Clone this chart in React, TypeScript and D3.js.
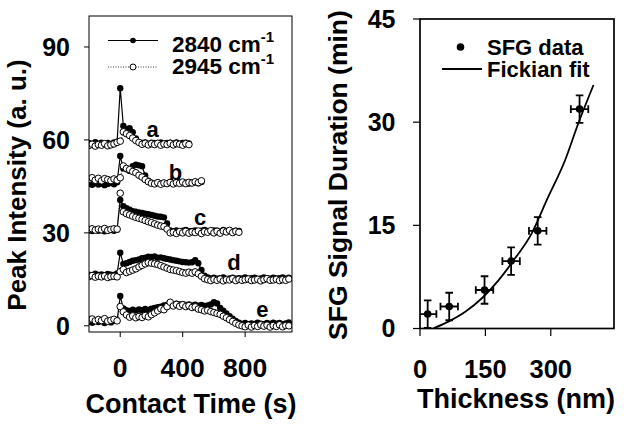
import React from 'react';
import * as d3 from 'd3';

// ---- Left panel data (time series, sampled every 20 s starting at -200 s) ----
const T0 = -200;
const DT = 20;

const a2840 = [59.0, 58.6, 59.3, 58.8, 59.1, 58.5, 59.0, 58.7, 59.2, 59.4, 76.7, 64.5, 63.5, 63.8, 62.5, 60.5,
  59.3, 59.0, 59.2, 58.8, 59.1, 59.0, 58.9, 59.2, 58.8, 59.0, 59.1, 58.9, 59.2, 58.8, 59.0, 59.1, 58.9];
const a2945 = [58.2, 58.6, 58.0, 58.5, 58.3, 58.8, 58.1, 58.4, 58.7, 59.2, 59.6, 62.6, 62.0, 61.4, 60.6, 59.8,
  59.2, 58.6, 58.9, 58.4, 58.8, 58.5, 58.9, 58.3, 58.7, 58.5, 58.9, 58.4, 58.8, 58.6, 58.3, 58.8, 58.5];

const b2840 = [45.8, 45.5, 46.0, 45.6, 45.9, 45.4, 45.8, 46.2, 45.7, 46.3, 54.8,
  50.8, 50.5, 50.0, 51.5, 52.0, 51.8, 51.5, 48.5, 46.8,
  46.2, 46.0, 46.3, 45.9, 46.1, 46.0, 46.2, 45.9, 46.1, 46.3, 46.0, 46.2, 45.9, 46.1, 46.3, 46.0, 46.4];
const b2945 = [47.3, 47.8, 47.0, 47.6, 46.8, 47.5, 47.2, 46.9, 47.4, 47.0, 47.8,
  51.6, 50.8, 50.4, 49.8, 49.4, 48.6, 48.0, 47.2, 46.5,
  46.0, 45.8, 46.2, 45.7, 46.1, 45.9, 46.3, 45.8, 46.2, 46.0, 46.4, 45.9, 46.3, 46.1, 46.5, 46.2, 46.8];

const c2840 = [30.8, 30.6, 31.0, 30.7, 30.9, 30.5, 30.8, 31.0, 30.7, 31.0, 40.6,
  38.6, 38.0, 37.5, 37.0, 36.8, 36.6, 36.4, 36.2, 36.0, 35.8, 35.5, 35.3, 35.2, 35.0, 33.0, 30.8,
  30.5, 30.8, 30.4, 30.7, 30.9, 30.5, 30.6, 30.8, 30.4, 30.7, 30.9, 30.6, 30.5, 30.8, 30.7, 30.4, 30.9, 30.6, 30.8, 30.5, 30.7, 30.6];
const c2945 = [31.1, 31.3, 30.9, 31.2, 31.0, 31.4, 30.8, 31.1, 31.3, 31.2, 42.8,
  36.8, 36.2, 35.8, 35.4, 35.0, 34.7, 34.4, 34.0, 33.6, 33.3, 32.9, 32.5, 32.2, 32.0, 31.2, 30.0,
  30.2, 29.8, 30.4, 30.0, 30.5, 29.9, 30.3, 30.1, 30.6, 29.8, 30.4, 30.2, 30.7, 30.0, 30.5, 29.9, 30.6, 30.3, 30.8, 30.1, 30.5, 30.2];

const d2840 = [16.5, 16.2, 16.8, 16.4, 16.6, 16.3, 16.7, 16.5, 16.4, 16.9, 23.6,
  20.0, 20.2, 20.6, 21.0, 21.2, 21.4, 21.8, 22.0, 22.3, 22.2, 22.4, 22.0, 22.1, 21.8, 21.6, 21.4, 21.2, 21.0, 20.8, 20.6, 20.5, 20.4, 20.5, 21.2, 20.2, 18.0,
  16.2,
  15.6, 15.3, 15.5, 15.2, 15.4, 15.6, 15.1, 15.3, 15.5, 15.2, 15.4, 15.3, 15.6, 15.2, 15.4, 15.5, 15.1, 15.3, 15.6, 15.4, 15.2, 15.5, 15.3, 15.4, 15.6, 15.2, 15.5];
const d2945 = [15.9, 16.2, 15.7, 16.0, 15.8, 16.1, 15.6, 15.9, 16.0, 15.8, 17.5,
  18.2, 17.2, 17.6, 18.0, 18.4, 19.0, 19.5, 20.0, 20.4, 20.2, 20.0, 19.8, 19.4, 19.0, 18.6, 18.2, 18.0, 17.8, 17.5, 17.2, 17.0, 17.3, 17.0, 17.4, 16.8, 16.0, 15.2,
  14.9, 14.6, 15.0, 14.7, 15.1, 14.5, 14.9, 14.8, 15.2, 14.6, 15.0, 14.7, 14.9, 15.1, 14.6, 14.8, 15.0, 14.5, 14.9, 15.2, 14.7, 14.8, 15.0, 14.6, 14.9, 14.7, 15.1];

const e2840 = [1.3, 1.0, 1.6, 1.2, 1.5, 0.9, 1.4, 1.1, 1.6, 1.8, 9.6,
  5.6, 5.0, 4.8, 5.2, 4.9, 5.3, 5.0, 5.4, 5.1, 5.5,
  5.8, 6.0, 6.2, 6.6, 6.8, 7.0, 6.8, 7.1, 6.9, 7.0,
  6.7, 6.9, 6.6, 6.8, 6.5, 6.7, 6.4, 6.6, 6.9, 7.6,
  7.2, 5.8, 4.9, 4.0, 3.1, 2.3, 1.6, 1.0, 0.6, 0.9,
  0.5, 0.8, 0.6, 1.0, 0.7, 0.5, 0.9, 0.6, 1.0, 0.7,
  0.9, 0.5, 0.8, 1.1];
const e2945 = [1.9, 2.2, 1.6, 2.0, 1.7, 2.3, 1.5, 1.8, 2.1, 1.6, 6.2,
  4.5, 3.5, 2.8, 3.2, 2.6, 3.0, 2.7, 3.3, 2.9, 3.6,
  4.2, 4.8, 5.5, 5.2, 6.2, 7.6, 6.4, 6.9, 6.3, 6.8,
  6.2, 6.5, 5.9, 6.1, 5.4, 5.2, 4.8, 5.0, 4.6, 4.3,
  4.0, 3.7, 3.1, 2.6, 2.0, 1.4, 0.8, 0.3, 0.0, -0.3,
  0.2, -0.4, 0.1, -0.2, 0.3, -0.1, 0.2, -0.4, 0.1, -0.2,
  0.3, -0.3, 0.1, 0.0];

const curveLabels = ['a', 'b', 'c', 'd', 'e'];
const labelTime = [208, 353, 512, 728, 910];
const labelIntensity = [61, 47, 32.5, 18, 2.9];
const series2840 = [a2840, b2840, c2840, d2840, e2840];
const series2945 = [a2945, b2945, c2945, d2945, e2945];

const leftYTicks = [0, 30, 60, 90];
const leftXTicks = [0, 400, 800];

// ---- Right panel data ----
const thickness = [17.6, 67, 148, 209, 270, 366];
const duration = [2.1, 3.2, 5.6, 9.8, 14.2, 31.9];
const thicknessErr = [20, 20, 20, 20, 20, 20];
const durationErr = [2, 2, 2, 2, 2, 2];
const fitThickness = [30, 65, 103, 142, 180, 218, 256, 291, 333, 363, 398];
const fitDuration = [0, 1.0, 2.4, 4.4, 7.0, 10.2, 13.8, 18.7, 24.5, 29.8, 35.4];

const rightYTicks = [0, 15, 30, 45];
const rightXTicks = [0, 150, 300];

const FONT = "'Liberation Sans', Arial, Helvetica, sans-serif";

export default function App() {
  // left scales
  const lx = d3.scaleLinear().domain([-200, 1100]).range([89, 292]);
  const ly = d3.scaleLinear().domain([-2, 100]).range([332, 16]);
  // right scales
  const rx = d3.scaleLinear().domain([0, 445]).range([420, 614]);
  const ry = d3.scaleLinear().domain([0, 45]).range([328.5, 19]);

  const toPts = (vals: number[]) => vals.map((v, i) => [T0 + i * DT, v] as [number, number]);
  const line = d3.line<[number, number]>().x(d => lx(d[0])).y(d => ly(d[1]));
  const fitLine = d3.line<[number, number]>().x(d => rx(d[0])).y(d => ry(d[1])).curve(d3.curveMonotoneX);
  const fitPts = fitThickness.map((t, i) => [t, fitDuration[i]] as [number, number]);

  const cap = 3.8;

  return (
    <svg width={624} height={426} style={{ position: 'absolute', left: 0, top: 0, background: '#fff' }}
      fontFamily={FONT} fontWeight="bold">
      <defs>
        <clipPath id="lclip"><rect x={89} y={16} width={203} height={316} /></clipPath>
        <clipPath id="rclip"><rect x={420} y={19} width={194} height={309.5} /></clipPath>
      </defs>
      <rect x={0} y={0} width={624} height={426} fill="#fff" />

      {/* ---------- LEFT PANEL ---------- */}
      <g clipPath="url(#lclip)">
        {series2840.map((vals, k) => {
          const pts = toPts(vals);
          const opn = toPts(series2945[k]);
          return (
            <g key={k}>
              <path d={line(pts) || ''} fill="none" stroke="#000" strokeWidth={1.2} />
              {pts.map((p, i) => <circle key={i} cx={lx(p[0])} cy={ly(p[1])} r={3.2} fill="#000" />)}
              <path d={line(opn) || ''} fill="none" stroke="#000" strokeWidth={0.8} strokeDasharray="1,1.5" />
              {opn.map((p, i) => <circle key={i} cx={lx(p[0])} cy={ly(p[1])} r={3.3} fill="#fff" stroke="#000" strokeWidth={1} />)}
            </g>
          );
        })}
      </g>
      <rect x={89} y={16} width={203} height={316} fill="none" stroke="#000" strokeWidth={1} />
      {leftYTicks.map(v => (
        <g key={v}>
          <line x1={84} x2={89} y1={ly(v)} y2={ly(v)} stroke="#000" strokeWidth={1} />
          <text x={70} y={ly(v)} dy="0.35em" textAnchor="end" fontSize={25}>{v}</text>
        </g>
      ))}
      {leftXTicks.map(v => (
        <g key={v}>
          <line x1={lx(v)} x2={lx(v)} y1={332} y2={337} stroke="#000" strokeWidth={1} />
          <text x={lx(v)} y={376.5} textAnchor="middle" fontSize={26.5}>{v}</text>
        </g>
      ))}
      {curveLabels.map((l, i) => (
        <text key={l} x={lx(labelTime[i])} y={ly(labelIntensity[i])} textAnchor="middle" fontSize={22}>{l}</text>
      ))}
      <text x={191} y={413} textAnchor="middle" fontSize={27}>Contact Time (s)</text>
      <text transform="translate(26,185) rotate(-90)" textAnchor="middle" fontSize={26}>Peak Intensity (a. u.)</text>

      {/* left legend */}
      <line x1={108} x2={158} y1={40.5} y2={40.5} stroke="#000" strokeWidth={1.2} />
      <circle cx={133} cy={40.5} r={2.8} fill="#000" />
      <text x={172} y={52} fontSize={22.5}>2840 cm<tspan dy={-10} fontSize={15}>-1</tspan></text>
      <line x1={108} x2={158} y1={67} y2={67} stroke="#000" strokeWidth={0.8} strokeDasharray="1,1.5" />
      <circle cx={133} cy={67} r={3} fill="#fff" stroke="#000" strokeWidth={1} />
      <text x={172} y={73.5} fontSize={22.5}>2945 cm<tspan dy={-10} fontSize={15}>-1</tspan></text>

      {/* ---------- RIGHT PANEL ---------- */}
      <g clipPath="url(#rclip)">
        <path d={fitLine(fitPts) || ''} fill="none" stroke="#000" strokeWidth={1.8} />
        {thickness.map((t, i) => {
          const cx = rx(t), cy = ry(duration[i]);
          const x0 = rx(t - thicknessErr[i]), x1 = rx(t + thicknessErr[i]);
          const y0 = ry(duration[i] - durationErr[i]), y1 = ry(duration[i] + durationErr[i]);
          return (
            <g key={i} stroke="#000" strokeWidth={1.8}>
              <line x1={cx} x2={cx} y1={y0} y2={y1} />
              <line x1={cx - cap} x2={cx + cap} y1={y0} y2={y0} />
              <line x1={cx - cap} x2={cx + cap} y1={y1} y2={y1} />
              <line x1={x0} x2={x1} y1={cy} y2={cy} />
              <line x1={x0} x2={x0} y1={cy - cap} y2={cy + cap} />
              <line x1={x1} x2={x1} y1={cy - cap} y2={cy + cap} />
              <circle cx={cx} cy={cy} r={3.8} fill="#000" stroke="none" />
            </g>
          );
        })}
      </g>
      <rect x={420} y={19} width={194} height={309.5} fill="none" stroke="#000" strokeWidth={1.7} />
      {rightYTicks.map(v => (
        <g key={v}>
          <line x1={413} x2={420} y1={ry(v)} y2={ry(v)} stroke="#000" strokeWidth={1.2} />
          <text x={395.5} y={ry(v)} dy="0.35em" textAnchor="end" fontSize={25}>{v}</text>
        </g>
      ))}
      {rightXTicks.map(v => (
        <g key={v}>
          <line x1={rx(v)} x2={rx(v)} y1={328.5} y2={336} stroke="#000" strokeWidth={1.2} />
          <text x={rx(v)} y={378} textAnchor="middle" fontSize={25.5}>{v}</text>
        </g>
      ))}
      <text x={516} y={408} textAnchor="middle" fontSize={27}>Thickness (nm)</text>
      <text transform="translate(347,175) rotate(-90)" textAnchor="middle" fontSize={26.5}>SFG Signal Duration (min)</text>

      {/* right legend */}
      <circle cx={460.5} cy={47} r={3.8} fill="#000" />
      <text x={487} y={55} fontSize={22}>SFG data</text>
      <line x1={442} x2={482} y1={69} y2={69} stroke="#000" strokeWidth={1.8} />
      <text x={487} y={76.5} fontSize={22}>Fickian fit</text>
    </svg>
  );
}
